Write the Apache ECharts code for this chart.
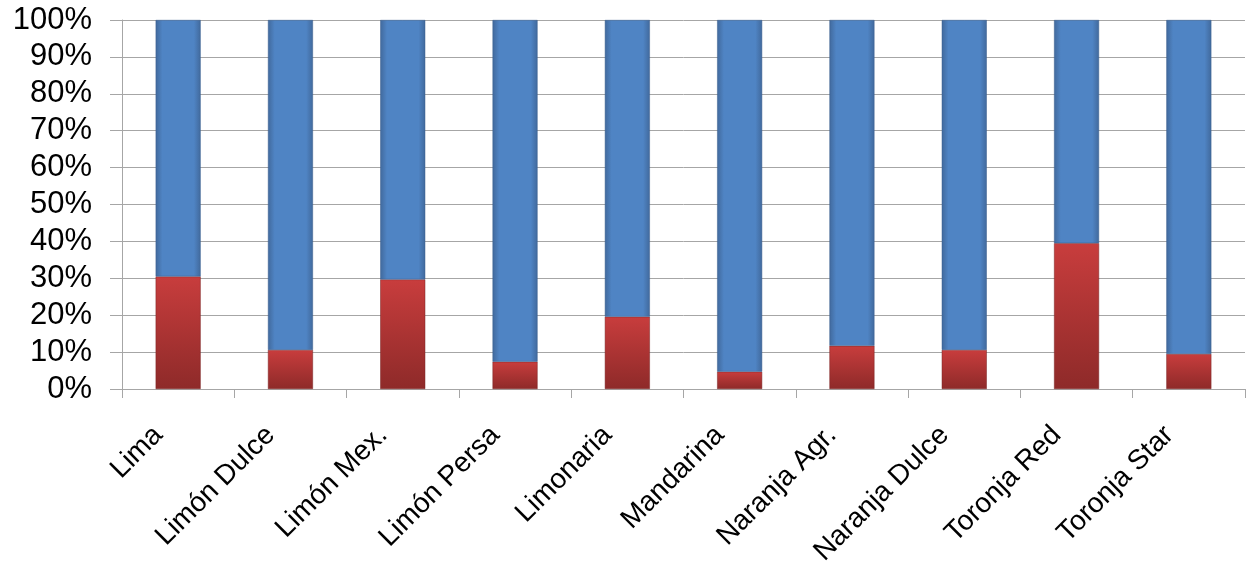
<!DOCTYPE html>
<html>
<head>
<meta charset="utf-8">
<script src="https://cdn.jsdelivr.net/npm/echarts@6/dist/echarts.min.js"></script>
<style>
  html, body { margin: 0; padding: 0; background: #fff; }
  #chart { width: 1249px; height: 575px; }
</style>
</head>
<body>
<div id="chart"></div>
<script>
const categories = ['Lima', 'Limón Dulce', 'Limón Mex.', 'Limón Persa', 'Limonaria', 'Mandarina', 'Naranja Agr.', 'Naranja Dulce', 'Toronja Red', 'Toronja Star']
const redValues = [30.5, 10.6, 29.7, 7.4, 19.6, 4.7, 11.7, 10.6, 39.5, 9.5]
const blueValues = [69.5, 89.4, 70.3, 92.6, 80.4, 95.3, 88.3, 89.4, 60.5, 90.5]
const yTicks = [0, 10, 20, 30, 40, 50, 60, 70, 80, 90, 100]

const chart = echarts.init(document.getElementById('chart'))

const redFill = new echarts.graphic.LinearGradient(0, 0, 0, 1, [
  { offset: 0, color: '#c83d3d' },
  { offset: 1, color: '#8e2a29' }
])
const blueFill = new echarts.graphic.LinearGradient(0, 0, 1, 0, [
  { offset: 0, color: '#41699c' },
  { offset: 0.15, color: '#4f84c4' },
  { offset: 0.85, color: '#4f84c4' },
  { offset: 1, color: '#41699c' }
])

const option = {
  backgroundColor: '#fff',
  animation: false,
  grid: {
    left: 122,
    right: 4,
    top: 20,
    bottom: 186,
    containLabel: false
  },
  xAxis: {
    type: 'category',
    data: categories,
    axisLine: { lineStyle: { color: '#a6a6a6', width: 1 } },
    axisTick: { show: true, length: 9, lineStyle: { color: '#a6a6a6' } },
    axisLabel: {
      rotate: 45,
      margin: 22,
      padding: [0, 28, 0, 0],
      interval: 0,
      fontFamily: 'Liberation Sans, Arial, sans-serif',
      fontSize: 28,
      color: '#000'
    }
  },
  yAxis: {
    type: 'value',
    min: 0,
    max: 100,
    interval: 10,
    axisLine: { show: true, lineStyle: { color: '#a6a6a6' } },
    axisTick: { show: true, inside: false, length: 12, lineStyle: { color: '#a6a6a6' } },
    splitLine: { show: true, lineStyle: { color: '#a6a6a6', width: 1 } },
    axisLabel: {
      margin: 30,
      fontFamily: 'Liberation Sans, Arial, sans-serif',
      fontSize: 31,
      color: '#000',
      formatter: function (v) {
        return yTicks.indexOf(v) >= 0 ? v + '%' : ''
      }
    }
  },
  series: [
    {
      name: 'rojo',
      type: 'bar',
      stack: 'total',
      barWidth: 45,
      itemStyle: {
        color: redFill,
        borderColor: '#7a2424',
        borderWidth: 0.5
      },
      data: redValues
    },
    {
      name: 'azul',
      type: 'bar',
      stack: 'total',
      barWidth: 45,
      itemStyle: {
        color: blueFill,
        borderColor: '#3a5f8f',
        borderWidth: 0.5
      },
      data: blueValues
    }
  ]
}

chart.setOption(option)
</script>
</body>
</html>
